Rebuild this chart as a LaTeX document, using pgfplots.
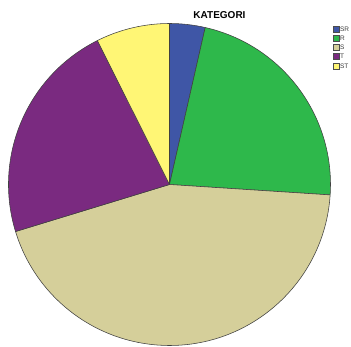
\documentclass[border=0pt]{standalone}
\usepackage{pgfplots}
\usepackage{pgfplotstable}
\pgfplotsset{compat=1.18}
\usepackage{fontspec}
\setmainfont{Liberation Sans}
\definecolor{srblue}{RGB}{63,86,166}
\definecolor{rgreen}{RGB}{46,184,75}
\definecolor{stan}{RGB}{213,207,154}
\definecolor{tpurple}{RGB}{122,42,128}
\definecolor{styellow}{RGB}{255,246,117}
\definecolor{legtext}{RGB}{60,60,60}
\pgfplotstableread{
label value col ly
SR 3.56 srblue 29
R 22.47 rgreen 38.2
S 44.25 stan 47.4
T 22.33 tpurple 56.6
ST 7.39 styellow 65.8
}\piedata
\begin{document}
\begin{tikzpicture}
\begin{axis}[
  scale only axis, width=351pt, height=347pt,
  xmin=0, xmax=351, ymin=0, ymax=347,
  hide axis, clip=false]
\def\cum{0}
\pgfplotsforeachungrouped \i in {0,...,4}{%
  \pgfplotstablegetelem{\i}{value}\of\piedata \let\sliceval\pgfplotsretval
  \pgfplotstablegetelem{\i}{col}\of\piedata \let\slicecol\pgfplotsretval
  \pgfplotstablegetelem{\i}{label}\of\piedata \let\slicelab\pgfplotsretval
  \pgfplotstablegetelem{\i}{ly}\of\piedata \let\slicely\pgfplotsretval
  \pgfmathsetmacro\angA{90-3.6*\cum}%
  \pgfmathsetmacro\angB{90-3.6*(\cum+\sliceval)}%
  \pgfmathsetmacro\legy{347-\slicely}%
  \edef\cmd{%
    \noexpand\filldraw[fill=\slicecol, draw=black!75, line width=0.55pt, line join=round]
      (axis cs:169.5,162.5) -- ++(\angA:161pt) arc[start angle=\angA, end angle=\angB, radius=161pt] -- cycle;
    \noexpand\filldraw[fill=\slicecol, draw=black!70, line width=0.4pt]
      (axis cs:332.7,\legy) ++(0,-3pt) rectangle ++(6pt,6pt);
    \noexpand\node[anchor=west, inner sep=0pt, text=legtext]
      at (axis cs:339.8,\legy) {\noexpand\fontsize{6.5}{7}\noexpand\selectfont\noexpand\color{legtext}\slicelab};
  }%
  \cmd
  \pgfmathsetmacro\cum{\cum+\sliceval}%
}
\node[font=\bfseries\fontsize{10}{12}\selectfont, anchor=base] at (axis cs:219.5,328) {KATEGORI};
\end{axis}
\pgfresetboundingbox
\path[use as bounding box] (0,0) rectangle (351pt,347pt);
\end{tikzpicture}
\end{document}
